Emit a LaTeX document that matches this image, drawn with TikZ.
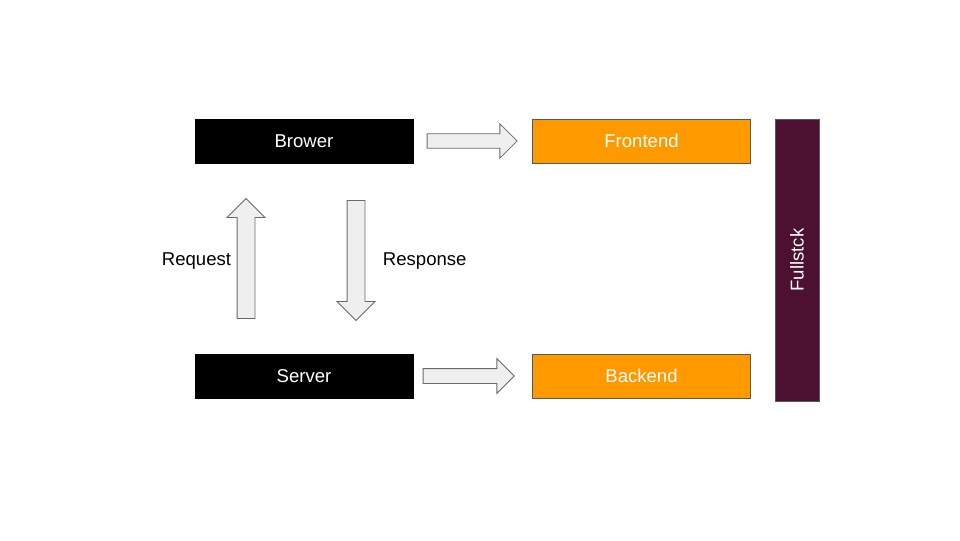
\documentclass[tikz,border=0pt]{standalone}
\usepackage{fontspec}
\setmainfont{Liberation Sans}
\usetikzlibrary{shapes.arrows}
\definecolor{boxorange}{HTML}{FF9900}
\definecolor{stackpurple}{HTML}{4C1130}
\definecolor{arrowgray}{HTML}{EFEFEF}
\definecolor{edgegray}{HTML}{595959}
\tikzset{
    tierbox/.style={draw=edgegray, line width=0.6pt, minimum width=5.45cm, minimum height=1.1cm, font={\fontsize{13.2}{15}\selectfont}},
    blockarrow/.style={single arrow, draw=edgegray!90, fill=arrowgray, line width=0.6pt, inner sep=0pt, single arrow tip angle=90}
}
\begin{document}
\begin{tikzpicture}[x=0.025cm, y=-0.025cm]
        \useasboundingbox (0,0) rectangle (960,540);

        \node[tierbox, fill=black, draw=black, text=white] (brower) at (304,141) {Brower};
        \node[tierbox, fill=black, draw=black, text=white] (server) at (304,376) {Server};
        \node[tierbox, fill=boxorange, text=white] (frontend) at (641.5,141) {Frontend};
        \node[tierbox, fill=boxorange, text=white] (backend) at (641.5,376) {Backend};

        \node[tierbox, fill=stackpurple, minimum width=7.05cm, text=white, rotate=90] (fullstck) at (797,260) {Fullstck};

        % arrows between the tiers
        \node[blockarrow, minimum height=2.25cm, minimum width=0.675cm, text height=0.34cm] (toFront) at (468.5,141) {};
        \node[blockarrow, minimum height=2.28cm, minimum width=0.75cm, text height=0.35cm] (toBack) at (465,376) {};
        \node[blockarrow, minimum height=3cm, minimum width=0.85cm, text height=0.425cm, rotate=90] (request) at (246,263) {};
        \node[blockarrow, minimum height=3cm, minimum width=0.85cm, text height=0.425cm, rotate=-90] (response) at (356,256) {};

        \node[font={\fontsize{13.2}{15}\selectfont}, anchor=east] (requestLabel) at (236,261) {Request};
        \node[font={\fontsize{13.2}{15}\selectfont}, anchor=west] (responseLabel) at (378,261) {Response};
\end{tikzpicture}
\end{document}
